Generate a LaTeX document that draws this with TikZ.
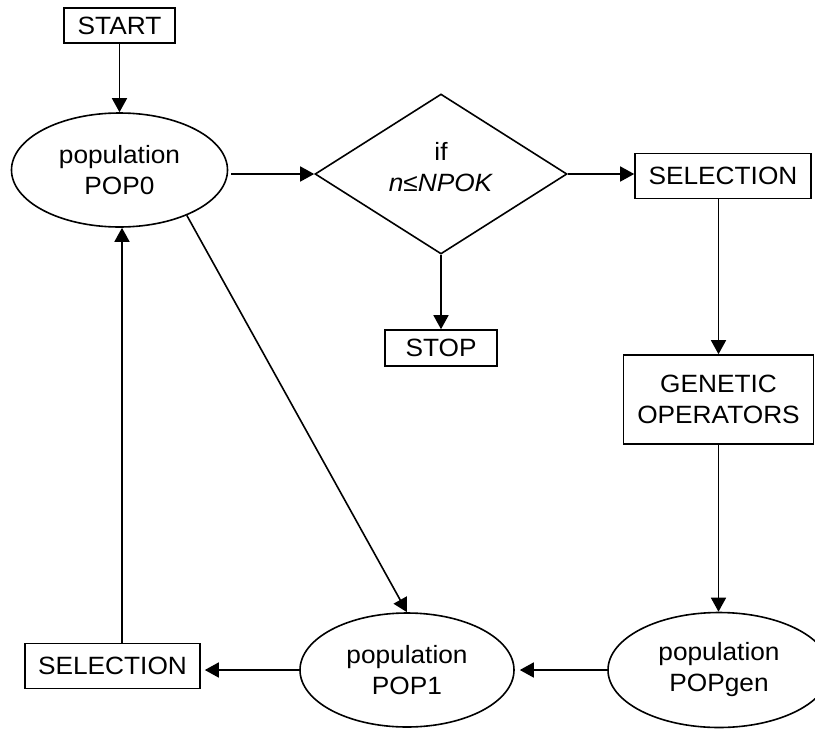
\documentclass[tikz,border=0pt]{standalone}
\usepackage{fontspec}
\setmainfont{Liberation Sans}[FakeStretch=1.05]
\usetikzlibrary{shapes.geometric,arrows.meta}
\begin{document}
\begin{tikzpicture}[x=1pt,y=-1pt,
  every node/.style={font=\fontsize{25}{31}\selectfont, align=center, inner sep=0pt, line width=1.6pt},
  boxnode/.style={draw, rectangle},
  ellnode/.style={draw, ellipse},
  arr/.style={line width=1.6pt, -{Triangle[length=14pt,width=15pt]}}]
\useasboundingbox (0,0) rectangle (815,729);
\node[boxnode, minimum width=111pt, minimum height=35pt] (start) at (119.5,25.5) {START};
\node[ellnode, minimum width=216pt, minimum height=114pt] (pop0) at (119.5,170) {population\\POP0};
\node[draw, diamond, minimum width=252pt, minimum height=160pt] (dia) at (441,174) {};
\node (cond) at (441,167) {if\\\textit{n≤NPOK}};
\node[boxnode, minimum width=176pt, minimum height=45pt] (sel1) at (723,176) {SELECTION};
\node[boxnode, minimum width=112pt, minimum height=36pt] (stop) at (441,348) {STOP};
\node[boxnode, minimum width=190pt, minimum height=89pt] (gen) at (718.5,399.5) {GENETIC\\OPERATORS};
\node[ellnode, minimum width=222pt, minimum height=115pt] (popgen) at (719,670) {population\\POPgen};
\node[ellnode, minimum width=214pt, minimum height=114pt] (pop1) at (407,670) {population\\POP1};
\node[boxnode, minimum width=175pt, minimum height=45pt] (sel2) at (112.5,666) {SELECTION};

\draw[arr] (start.south) -- (pop0.north);
\draw[arr] ([xshift=3pt]pop0.east |- dia.west) -- (dia.west);
\draw[arr] (dia.east) -- (dia.east -| sel1.west);
\draw[arr] (dia.south) -- (stop.north);
\draw[arr] (gen.north |- sel1.south) -- (gen.north);
\draw[arr] (gen.south) -- (gen.south |- popgen.north);
\draw[arr, shorten >=5pt] (popgen.west) -- (pop1.east);
\draw[arr, shorten >=4pt] (pop1.west) -- (pop1.west -| sel2.east);
\draw[arr] ([xshift=9.5pt]sel2.north) -- ([xshift=9.5pt]sel2.north |- pop0.south);
\draw[arr] (pop0.-34) -- (pop1.north);
\end{tikzpicture}
\end{document}
